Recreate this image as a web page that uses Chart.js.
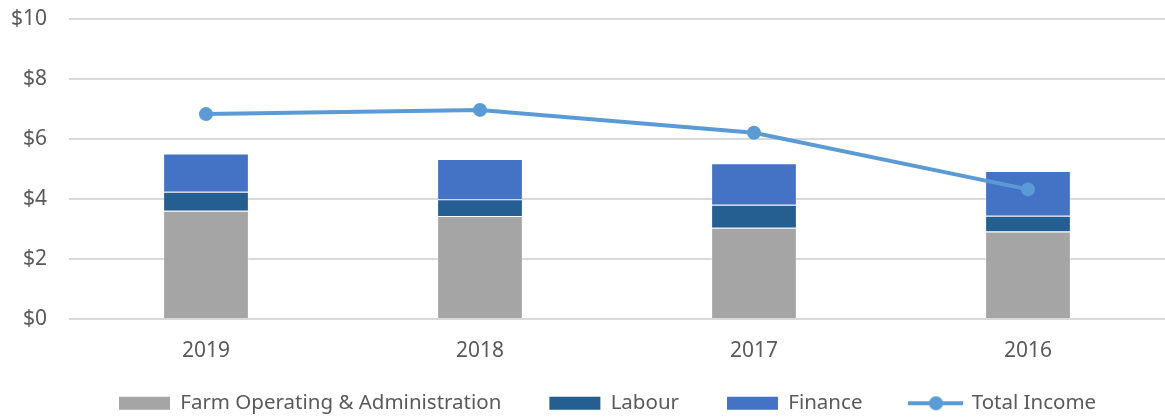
<!DOCTYPE html>
<html>
<head>
<meta charset="utf-8">
<script src="https://cdn.jsdelivr.net/npm/chart.js@4.4.1/dist/chart.umd.min.js"></script>
<style>
  html, body { margin: 0; padding: 0; background: #fff; }
  #wrap { width: 1165px; height: 419px; }
</style>
</head>
<body>
<div id="wrap"><canvas id="chart"></canvas></div>
<script>
const years = ['2019', '2018', '2017', '2016'];
const farmOps = [3.61, 3.43, 3.04, 2.92];
const labour = [0.63, 0.56, 0.77, 0.52];
const finance = [1.28, 1.34, 1.38, 1.49];
const totalIncome = [6.83, 6.97, 6.21, 4.32];
const yTicks = [0, 2, 4, 6, 8, 10];

const FONT = '"Noto Sans", "Open Sans", sans-serif';
const TEXT = '#595959';
const LEGEND_PAD = 48;

// little line-with-dot picture for the Total Income legend entry
const lineIcon = document.createElement('canvas');
lineIcon.width = 55;
lineIcon.height = 16;
(function () {
    const c = lineIcon.getContext('2d');
    c.strokeStyle = '#5b9bd5';
    c.lineWidth = 4;
    c.beginPath();
    c.moveTo(0, 8);
    c.lineTo(55, 8);
    c.stroke();
    c.fillStyle = '#5b9bd5';
    c.beginPath();
    c.arc(27.5, 8, 7, 0, Math.PI * 2);
    c.fill();
})();

// put the legend row where the original has it
const placeLegend = {
    id: 'placeLegend',
    afterLayout(chart) {
        const lg = chart.legend;
        const lw = lg.lineWidths[0];
        lg.left = 2 * 119 - LEGEND_PAD - lg.right + lw;
        lg.width = lg.right - lg.left;
        lg.top = 393 - LEGEND_PAD;
        lg.bottom = chart.height;
        lg.height = lg.bottom - lg.top;
    }
};

const data = {
    labels: years,
    datasets: [{
            type: 'line',
            label: 'Total Income',
            data: totalIncome,
            borderColor: '#5b9bd5',
            backgroundColor: '#5b9bd5',
            borderWidth: 4,
            pointRadius: 7,
            pointHoverRadius: 7,
            pointBackgroundColor: '#5b9bd5',
            pointBorderWidth: 0,
            tension: 0,
            order: 0
        },
        {
            label: 'Farm Operating & Administration',
            data: farmOps,
            backgroundColor: '#a5a5a5',
            borderColor: 'rgba(255,255,255,0.35)',
            borderWidth: 1,
            stack: 's',
            order: 1
        },
        {
            label: 'Labour',
            data: labour,
            backgroundColor: '#255e91',
            borderColor: 'rgba(255,255,255,0.25)',
            borderWidth: 1,
            stack: 's',
            order: 1
        },
        {
            label: 'Finance',
            data: finance,
            backgroundColor: '#4472c4',
            borderColor: 'rgba(255,255,255,0.25)',
            borderWidth: 1,
            stack: 's',
            order: 1
        }
    ]
};

const config = {
    type: 'bar',
    data: data,
    plugins: [placeLegend],
    options: {
        responsive: true,
        maintainAspectRatio: false,
        animation: false,
        layout: {
            autoPadding: false,
            padding: { top: 19, left: 0, right: 0, bottom: 6 }
        },
        datasets: {
            bar: { barPercentage: 0.313, categoryPercentage: 1 }
        },
        scales: {
            x: {
                stacked: true,
                grid: { display: false, drawTicks: false },
                border: { display: false },
                afterFit(axis) {
                    axis.height = 44;
                },
                ticks: { color: TEXT, font: { family: FONT, size: 21 }, padding: 19 }
            },
            y: {
                stacked: true,
                min: 0,
                max: 10,
                afterBuildTicks(axis) {
                    axis.ticks = yTicks.map(v => ({ value: v }));
                },
                afterFit(axis) {
                    axis.width = 69;
                    axis.paddingTop = 0;
                    axis.paddingBottom = 0;
                },
                grid: { color: '#d9d9d9', lineWidth: 2, drawTicks: false },
                border: { display: false },
                ticks: {
                    color: TEXT,
                    font: { family: FONT, size: 21 },
                    padding: 22,
                    callback: v => '$' + v
                }
            }
        },
        plugins: {
            tooltip: { enabled: false },
            legend: {
                position: 'bottom',
                maxHeight: 50,
                labels: {
                    color: TEXT,
                    font: { family: FONT, size: 20.5 },
                    usePointStyle: true,
                    pointStyleWidth: 51,
                    boxHeight: 13,
                    padding: LEGEND_PAD,
                    generateLabels(chart) {
                        const order = [1, 2, 3, 0];
                        return order.map(i => {
                            const ds = chart.data.datasets[i];
                            return {
                                text: ds.label,
                                fillStyle: ds.backgroundColor,
                                strokeStyle: ds.backgroundColor,
                                lineWidth: 0,
                                pointStyle: ds.type === 'line' ? lineIcon : 'rect',
                                datasetIndex: i,
                                fontColor: TEXT
                            };
                        });
                    }
                }
            }
        }
    }
};

var chart = new Chart(
    document.getElementById('chart'),
    config
);
</script>
</body>
</html>
